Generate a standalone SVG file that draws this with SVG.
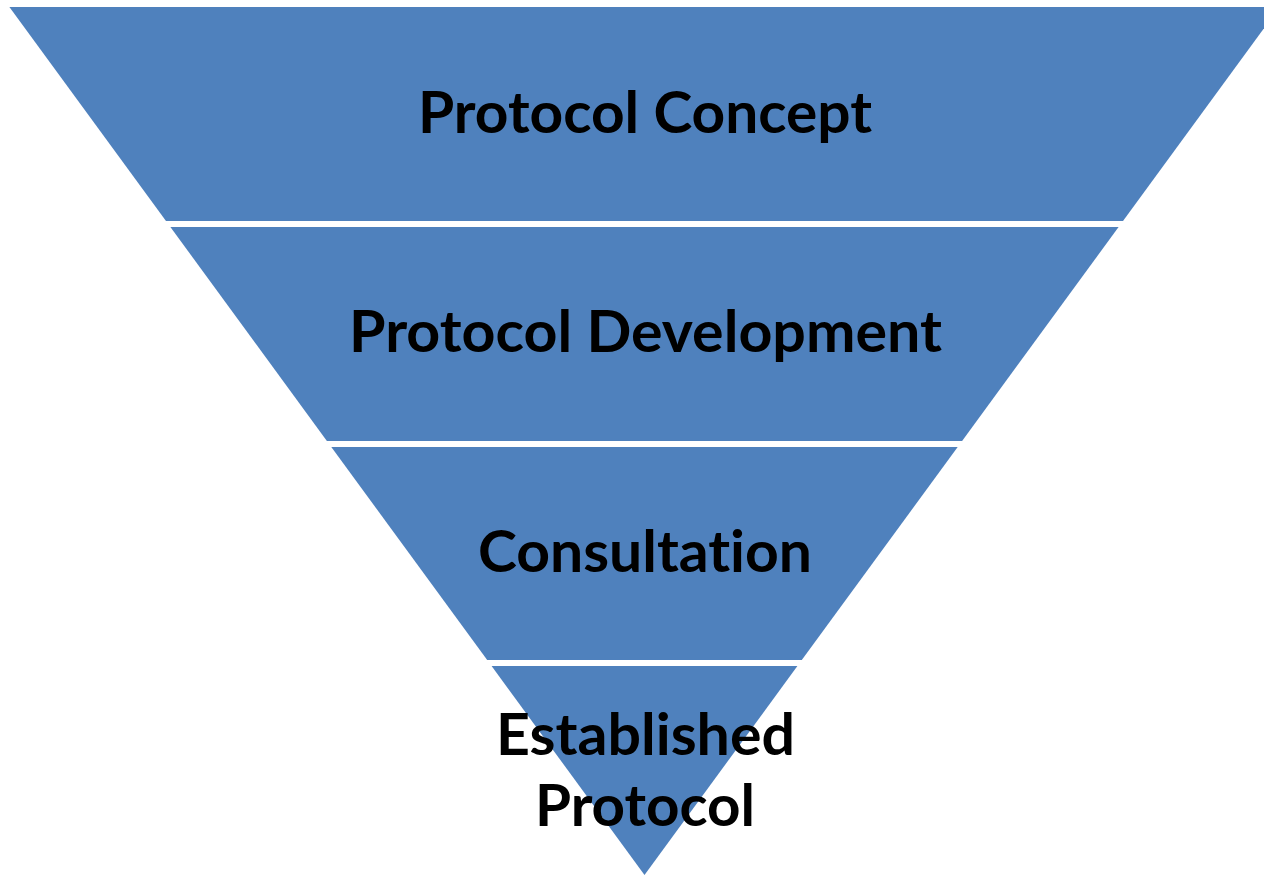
<svg xmlns="http://www.w3.org/2000/svg" width="1264" height="876" viewBox="0 0 1264 876">
<style>
.band{fill:#4F81BD;}
.lbl{font-family:Lato,"Open Sans","Liberation Sans",sans-serif;font-weight:bold;font-size:57px;fill:#000;text-anchor:middle;font-variant-ligatures:none;font-feature-settings:"liga" 0;}
</style>
<rect width="1264" height="876" fill="#fff"/>
<g id="band1">
<polygon class="band" points="9.4,7 1279.6,7 1123,221 166,221"/>
<text class="lbl" x="645" y="133" textLength="454" lengthAdjust="spacingAndGlyphs">Protocol Concept</text>
</g>
<g id="band2">
<polygon class="band" points="170.4,227 1118.6,227 962.1,441 326.9,441"/>
<text class="lbl" x="645.5" y="352" textLength="593" lengthAdjust="spacingAndGlyphs">Protocol Development</text>
</g>
<g id="band3">
<polygon class="band" points="331.3,447 957.7,447 801.8,660 487.2,660"/>
<text class="lbl" x="645" y="572" textLength="334" lengthAdjust="spacingAndGlyphs">Consultation</text>
</g>
<g id="band4">
<polygon class="band" points="491.6,666 797.4,666 644.5,875"/>
<text class="lbl" x="645.5" y="755" textLength="299" lengthAdjust="spacingAndGlyphs">Established</text>
<text class="lbl" x="645" y="826" textLength="220" lengthAdjust="spacingAndGlyphs">Protocol</text>
</g>
<g id="connectors"></g>
</svg>
